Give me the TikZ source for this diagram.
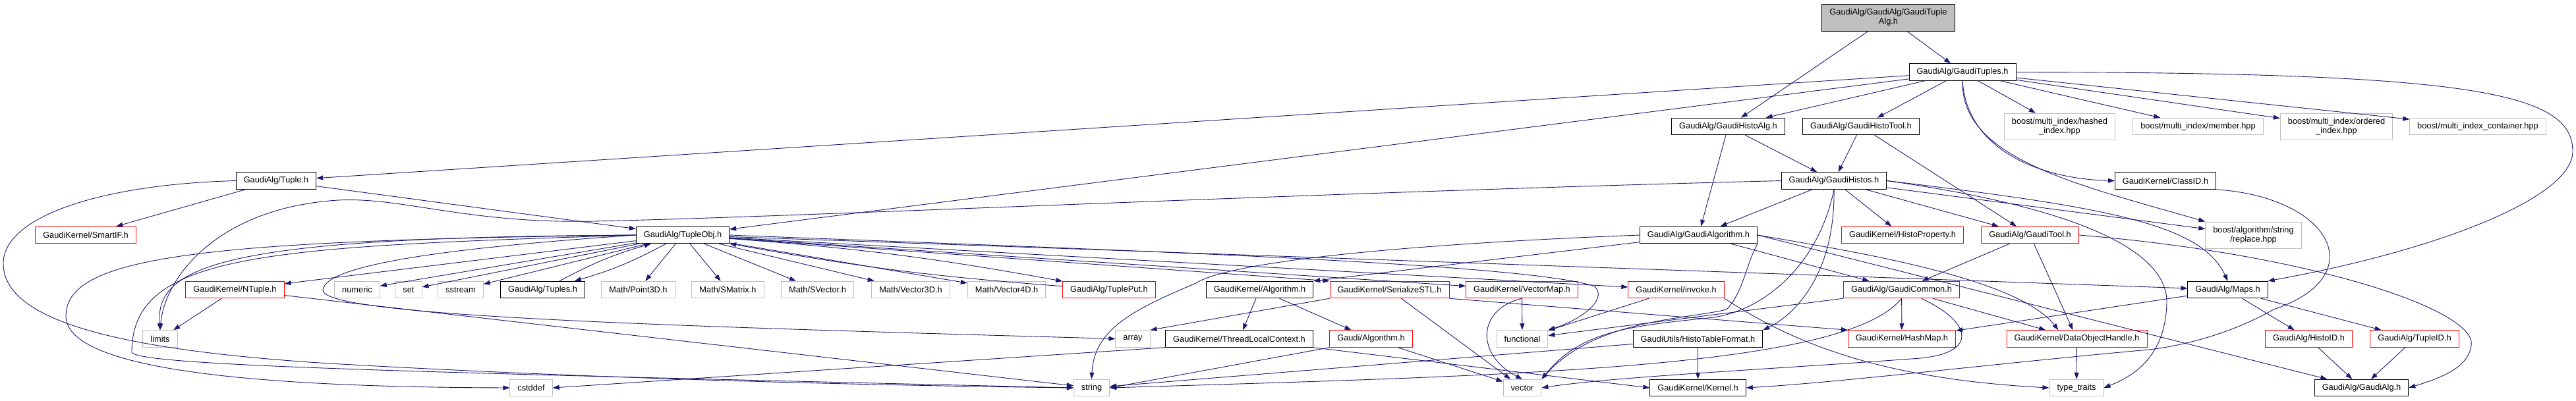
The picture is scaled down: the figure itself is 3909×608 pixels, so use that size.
\documentclass[tikz,border=0pt]{standalone}
\usepackage{fontspec}
\setmainfont{Liberation Sans}
\usetikzlibrary{arrows.meta}
\definecolor{edgeblue}{HTML}{191970}
\definecolor{grey75}{HTML}{BFBFBF}

\begin{document}
\begin{tikzpicture}[x=1pt, y=-1pt,
    every node/.style={draw, rectangle, fill=white, line width=1pt, inner xsep=11.5pt, inner ysep=0pt, minimum height=25.5pt, font=\fontsize{12.8}{14}\selectfont},
    hdr/.style={draw=black},
    redhdr/.style={draw=red},
    syshdr/.style={draw=grey75},
    twoline/.style={align=center, minimum height=40pt},
    dep/.style={-{Triangle[length=10pt, width=7pt]}, draw=edgeblue, line width=0.9pt}]
  \useasboundingbox (0,0) rectangle (3909,608);
  \node [hdr, fill=grey75, twoline, minimum height=41pt] (root) at (2865.5,26.5) {GaudiAlg/GaudiAlg/GaudiTuple\\Alg.h};
  \node [hdr] (gtuples) at (2978,109.5) {GaudiAlg/GaudiTuples.h};
  \node [hdr] (histoalg) at (2622.5,192) {GaudiAlg/GaudiHistoAlg.h};
  \node [hdr] (histotool) at (2824,192) {GaudiAlg/GaudiHistoTool.h};
  \node [syshdr, twoline] (hashed) at (3125.5,192) {boost/multi\_index/hashed\\\_index.hpp};
  \node [syshdr] (member) at (3335.5,192) {boost/multi\_index/member.hpp};
  \node [syshdr, twoline] (ordered) at (3545.5,192) {boost/multi\_index/ordered\\\_index.hpp};
  \node [syshdr] (container) at (3760,192) {boost/multi\_index\_container.hpp};
  \node [hdr] (tuple) at (419,274.5) {GaudiAlg/Tuple.h};
  \node [hdr] (histos) at (2783,274.5) {GaudiAlg/GaudiHistos.h};
  \node [hdr] (classid) at (3286,274.5) {GaudiKernel/ClassID.h};
  \node [redhdr] (smartif) at (130,357) {GaudiKernel/SmartIF.h};
  \node [hdr] (tupleobj) at (1036,357) {GaudiAlg/TupleObj.h};
  \node [hdr] (galgorithm) at (2577.5,357) {GaudiAlg/GaudiAlgorithm.h};
  \node [redhdr] (histoprop) at (2887,357) {GaudiKernel/HistoProperty.h};
  \node [redhdr] (gtool) at (3080.5,357) {GaudiAlg/GaudiTool.h};
  \node [syshdr, twoline] (replace) at (3419.5,357) {boost/algorithm/string\\/replace.hpp};
  \node [redhdr] (ntuple) at (356.5,440) {GaudiKernel/NTuple.h};
  \node [syshdr] (numeric) at (542,440) {numeric};
  \node [syshdr] (set) at (620,440) {set};
  \node [syshdr] (sstream) at (699,440) {sstream};
  \node [hdr] (tuples) at (823.5,440) {GaudiAlg/Tuples.h};
  \node [syshdr] (point3d) at (968.5,440) {Math/Point3D.h};
  \node [syshdr] (smatrix) at (1104.5,440) {Math/SMatrix.h};
  \node [syshdr] (svector) at (1240.5,440) {Math/SVector.h};
  \node [syshdr] (vector3d) at (1382,440) {Math/Vector3D.h};
  \node [syshdr] (vector4d) at (1527.5,440) {Math/Vector4D.h};
  \node [redhdr] (tupleput) at (1683,440) {GaudiAlg/TuplePut.h};
  \node [hdr] (kalgorithm) at (1911.5,440) {GaudiKernel/Algorithm.h};
  \node [redhdr] (serialize) at (2108.5,440) {GaudiKernel/SerializeSTL.h};
  \node [redhdr] (vectormap) at (2309.5,440) {GaudiKernel/VectorMap.h};
  \node [redhdr] (invoke) at (2543.5,440) {GaudiKernel/invoke.h};
  \node [redhdr] (gcommon) at (2885.5,440) {GaudiAlg/GaudiCommon.h};
  \node [hdr] (maps) at (3380.5,440) {GaudiAlg/Maps.h};
  \node [syshdr] (limits) at (243,514.5) {limits};
  \node [syshdr] (array) at (1719,514.5) {array};
  \node [hdr] (threadctx) at (1880.5,514.5) {GaudiKernel/ThreadLocalContext.h};
  \node [redhdr] (galgo) at (2080.5,514.5) {Gaudi/Algorithm.h};
  \node [syshdr] (functional) at (2310,514.5) {functional};
  \node [hdr] (tableformat) at (2576.5,514.5) {GaudiUtils/HistoTableFormat.h};
  \node [redhdr] (hashmap) at (2886,514.5) {GaudiKernel/HashMap.h};
  \node [redhdr] (dohandle) at (3151.5,514.5) {GaudiKernel/DataObjectHandle.h};
  \node [redhdr] (histoid) at (3503.5,514.5) {GaudiAlg/HistoID.h};
  \node [redhdr] (tupleid) at (3664,514.5) {GaudiAlg/TupleID.h};
  \node [syshdr] (cstddef) at (806,589) {cstddef};
  \node [syshdr] (string) at (1656.5,589) {string};
  \node [syshdr] (vector) at (2310,589) {vector};
  \node [hdr] (kernel) at (2576.5,589) {GaudiKernel/Kernel.h};
  \node [syshdr] (typetraits) at (3151,589) {type\_traits};
  \node [hdr] (gaudialg) at (3583.5,589) {GaudiAlg/GaudiAlg.h};
  \draw[dep] (root) -- (histoalg);
  \draw[dep] (root) -- (gtuples);
  \draw[dep] (gtuples) -- (tuple);
  \draw[dep] (gtuples) -- (tupleobj);
  \draw[dep] (gtuples) -- (histoalg);
  \draw[dep] (gtuples) -- (histotool);
  \draw[dep] (gtuples) -- (hashed);
  \draw[dep] (gtuples) -- (member);
  \draw[dep] (gtuples) -- (ordered);
  \draw[dep] (gtuples) -- (container);
  \draw[dep] (gtuples.south) .. controls (2985,230) and (3100,272) .. (classid.west);
  \draw[dep] (gtuples.south) .. controls (2975,240) and (3150,280) .. (replace.north west);
  \draw[dep] (gtuples.east) .. controls (3750,110) and (3904,140) .. (3904,230) .. controls (3904,300) and (3700,380) .. (maps.north east);
  \draw[dep] (histoalg) -- (galgorithm);
  \draw[dep] (histoalg) -- (histos);
  \draw[dep] (histotool) -- (histos);
  \draw[dep] (histotool) -- (gtool);
  \draw[dep] (histos) -- (galgorithm);
  \draw[dep] (histos) -- (histoprop);
  \draw[dep] (histos) -- (gtool);
  \draw[dep] (histos) -- (replace);
  \draw[dep] (histos.east) .. controls (3200,315) and (3340,340) .. (maps.north);
  \draw[dep] (histos.east) .. controls (3150,315) and (3290,380) .. (3288,460) .. controls (3286,540) and (3240,570) .. (typetraits.east);
  \draw[dep] (histos.south) .. controls (2760,400) and (2680,470) .. (2600,482) .. controls (2480,495) and (2400,500) .. (vector.north east);
  \draw[dep] (histos.south) .. controls (2785,420) and (2720,480) .. (tableformat.north east);
  \draw[dep] (histos.west) .. controls (2000,292) and (1200,330) .. (900,336) .. controls (700,340) and (600,295) .. (500,305) .. controls (330,320) and (250,420) .. (limits.north);
  \draw[dep] (tuple) -- (smartif);
  \draw[dep] (tuple) -- (tupleobj);
  \draw[dep] (tuple.west) .. controls (150,280) and (5,330) .. (5,400) .. controls (5,480) and (150,530) .. (500,552) .. controls (900,575) and (1300,585) .. (string.west);
  \draw[dep] (tupleobj) to[bend left=6] (tuples);
  \draw[dep] (tuples) to[bend left=6] (tupleobj);
  \draw[dep] (tupleobj) to[bend left=3] (tupleput);
  \draw[dep] (tupleput) to[bend left=3] (tupleobj);
  \draw[dep] (tupleobj) -- (ntuple);
  \draw[dep] (tupleobj) -- (numeric);
  \draw[dep] (tupleobj) -- (set);
  \draw[dep] (tupleobj) -- (sstream);
  \draw[dep] (tupleobj) -- (point3d);
  \draw[dep] (tupleobj) -- (smatrix);
  \draw[dep] (tupleobj) -- (svector);
  \draw[dep] (tupleobj) -- (vector3d);
  \draw[dep] (tupleobj) -- (vector4d);
  \draw[dep] (tupleobj) -- (serialize.north west);
  \draw[dep] (tupleobj) -- (vectormap);
  \draw[dep] (tupleobj) -- (invoke);
  \draw[dep] (tupleobj) -- (maps);
  \draw[dep] (tupleobj.east) .. controls (1700,380) and (2320,400) .. (2420,435) .. controls (2440,455) and (2400,485) .. (functional.north east);
  \draw[dep] (tupleobj.west) .. controls (350,360) and (235,400) .. (limits.north);
  \draw[dep] (tupleobj.west) .. controls (400,375) and (200,385) .. (200,535) .. controls (210,555) and (600,565) .. (string.west);
  \draw[dep] (tupleobj.west) .. controls (300,365) and (100,390) .. (100,480) .. controls (100,570) and (450,588) .. (cstddef.west);
  \draw[dep] (tupleobj.west) .. controls (700,375) and (495,400) .. (490,440) .. controls (485,480) and (1000,495) .. (array.west);
  \draw[dep] (ntuple) -- (limits);
  \draw[dep] (ntuple) -- (string);
  \draw[dep] (galgorithm) -- (kalgorithm.north east);
  \draw[dep] (galgorithm) -- (gcommon);
  \draw[dep] (galgorithm.west) .. controls (2100,372) and (1860,400) .. (1815,430) .. controls (1720,470) and (1660,500) .. (string.north);
  \draw[dep] (galgorithm.east) .. controls (2800,380) and (3060,420) .. ([xshift=-28pt]dohandle.north);
  \draw[dep] (galgorithm.east) -- (gaudialg);
  \draw[dep] (galgorithm.south east) .. controls (2650,400) and (2645,445) .. (2620,470) .. controls (2560,485) and (2420,485) .. (vector.north east);
  \draw[dep] (gcommon) -- (hashmap);
  \draw[dep] (gcommon) -- (dohandle);
  \draw[dep] (gcommon.south west) -- (functional);
  \draw[dep] (gcommon.south) .. controls (2800,560) and (2300,570) .. (string.east);
  \draw[dep] ([xshift=30pt]gcommon.south) .. controls (2995,490) and (3005,540) .. (2900,545) .. controls (2700,560) and (2450,572) .. (vector.east);
  \draw[dep] (gtool) -- (gcommon);
  \draw[dep] (gtool) -- (dohandle);
  \draw[dep] (gtool.east) .. controls (3500,385) and (3760,470) .. (3750,525) .. controls (3745,560) and (3700,575) .. (gaudialg.east);
  \draw[dep] (classid.south east) .. controls (3540,300) and (3600,420) .. (3450,470) .. controls (3380,510) and (3300,528) .. (3250,532) .. controls (3000,555) and (2800,580) .. (kernel.east);
  \draw[dep] (maps) -- (histoid);
  \draw[dep] (maps) -- (tupleid);
  \draw[dep] (maps) -- (hashmap);
  \draw[dep] (histoid) -- (gaudialg);
  \draw[dep] (tupleid) -- (gaudialg);
  \draw[dep] (kalgorithm) -- (threadctx);
  \draw[dep] (kalgorithm) -- (galgo);
  \draw[dep] (serialize.south west) -- (array.north east);
  \draw[dep] (serialize.south east) -- (hashmap.north west);
  \draw[dep] (serialize) -- (vector);
  \draw[dep] (threadctx.south west) -- (cstddef.east);
  \draw[dep] (threadctx.south east) -- (kernel.west);
  \draw[dep] (galgo.south west) -- (string.east);
  \draw[dep] (galgo) -- (vector);
  \draw[dep] (vectormap) -- (functional);
  \draw[dep] (vectormap.south) .. controls (2240,470) and (2240,540) .. (vector.north);
  \draw[dep] (invoke) -- (functional);
  \draw[dep] (invoke.south east) .. controls (2720,520) and (2850,575) .. (typetraits.west);
  \draw[dep] (tableformat) -- (string);
  \draw[dep] (tableformat) -- (kernel);
  \draw[dep] (dohandle) -- (typetraits);
\end{tikzpicture}
\end{document}
